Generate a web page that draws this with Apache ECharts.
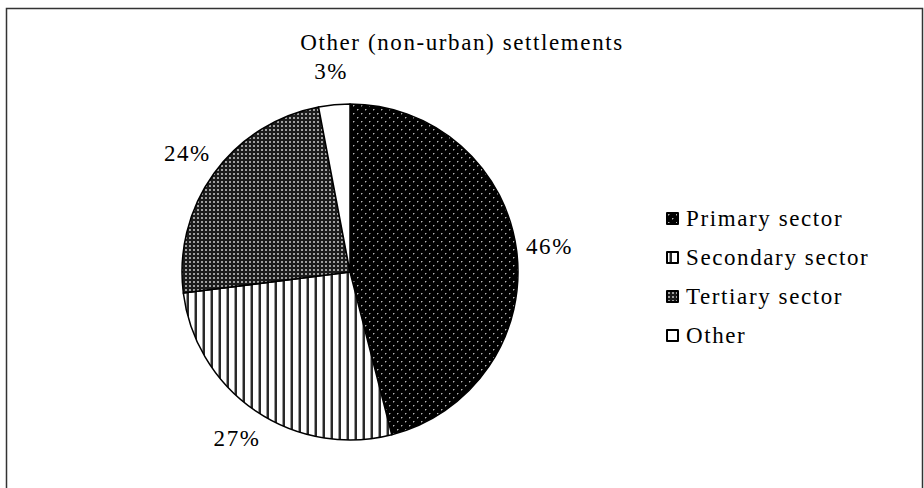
<!DOCTYPE html>
<html>
<head>
<meta charset="utf-8">
<script src="https://cdn.jsdelivr.net/npm/echarts@6/dist/echarts.min.js"></script>
<style>
  html, body { margin: 0; padding: 0; background: #fff; }
  #chart { width: 924px; height: 488px; letter-spacing: 1.6px; }
</style>
</head>
<body>
<div id="chart"></div>
<script>
// Employment structure of non-urban settlements, share of workers (%)
const chartTitle = 'Other (non-urban) settlements';
const categories = ['Primary sector', 'Secondary sector', 'Tertiary sector', 'Other'];
const shares = [46, 27, 24, 3];

const FONT = 'Liberation Serif';
const FONT_SIZE = 23;

// Monochrome hatch fills, one per sector
function makeTile(w, h, draw) {
  const c = document.createElement('canvas');
  c.width = w; c.height = h;
  draw(c.getContext('2d'), w, h);
  return c;
}
const dotsOnBlack = makeTile(8, 8, (g, w, h) => {
  g.fillStyle = '#000'; g.fillRect(0, 0, w, h);
  g.fillStyle = '#b4b4b4';
  g.fillRect(1, 1, 1, 1);
  g.fillRect(5, 5, 1, 1);
  g.fillStyle = '#555';
  g.fillRect(2, 1, 1, 1); g.fillRect(1, 2, 1, 1);
  g.fillRect(6, 5, 1, 1); g.fillRect(5, 6, 1, 1);
});
const verticalLines = makeTile(8, 8, (g, w, h) => {
  g.fillStyle = '#fff'; g.fillRect(0, 0, w, h);
  g.fillStyle = '#2a2a2a'; g.fillRect(3, 0, 2, h);
  g.fillStyle = '#9a9a9a'; g.fillRect(2, 0, 1, h);
});
const denseGrid = makeTile(4, 4, (g, w, h) => {
  g.fillStyle = '#1c1c1c'; g.fillRect(0, 0, w, h);
  g.fillStyle = '#a0a0a0'; g.fillRect(1, 1, 2, 2);
});
const fills = [
  { image: dotsOnBlack, repeat: 'repeat' },
  { image: verticalLines, repeat: 'repeat' },
  { image: denseGrid, repeat: 'repeat' },
  '#ffffff'
];

const pieCenter = [350, 272];

const sliceData = categories.map((name, i) => ({
  name: name,
  value: shares[i],
  itemStyle: { color: fills[i] }
}));
const labelData = categories.map((name, i) => ({ name: name, value: shares[i] }));

const chart = echarts.init(document.getElementById('chart'), null, { renderer: 'svg' });
chart.setOption({
  animation: false,
  textStyle: { fontFamily: FONT },
  title: {
    text: chartTitle,
    left: 'center',
    top: 31,
    padding: 0,
    textStyle: { fontFamily: FONT, fontSize: FONT_SIZE, fontWeight: 'normal', color: '#000' }
  },
  legend: {
    orient: 'vertical',
    left: 661,
    top: 202,
    icon: 'rect',
    itemWidth: 11,
    itemHeight: 11,
    itemGap: 16,
    selectedMode: false,
    data: categories,
    textStyle: { fontFamily: FONT, fontSize: FONT_SIZE, color: '#000', padding: [0, 0, 0, 3] }
  },
  graphic: [{
    type: 'rect',
    shape: { x: 6.5, y: 8.5, width: 916, height: 500 },
    style: { fill: 'none', stroke: '#333', lineWidth: 1.5 },
    silent: true
  }],
  series: [
    {
      type: 'pie',
      center: pieCenter,
      radius: 168,
      startAngle: 90,
      clockwise: true,
      silent: true,
      label: { show: false },
      labelLine: { show: false },
      itemStyle: { borderColor: '#000', borderWidth: 1.5 },
      emphasis: { disabled: true },
      data: sliceData
    },
    {
      // transparent ring that carries the percentage labels around the pie
      type: 'pie',
      center: pieCenter,
      radius: [186, 210],
      startAngle: 90,
      clockwise: true,
      silent: true,
      legendHoverLink: false,
      itemStyle: { color: 'rgba(0,0,0,0)', borderWidth: 0 },
      label: {
        show: true,
        position: 'inside',
        formatter: '{c}%',
        fontFamily: FONT,
        fontSize: FONT_SIZE,
        color: '#000'
      },
      labelLine: { show: false },
      emphasis: { disabled: true },
      data: labelData
    }
  ]
});
</script>
</body>
</html>
